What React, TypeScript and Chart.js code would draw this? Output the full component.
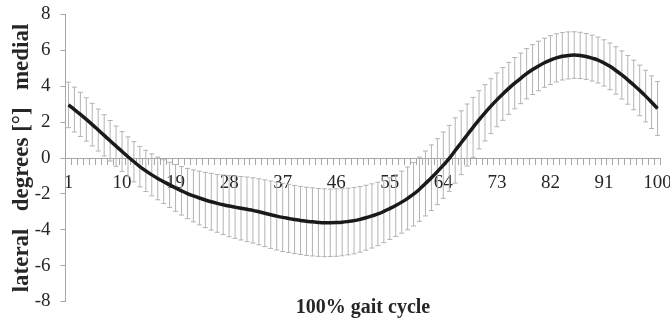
import React, { useEffect, useRef } from 'react';
import { Chart, registerables } from 'chart.js';

Chart.register(...registerables);

// Gait cycle categories (1..100 %)
const categories: string[] = Array.from({ length: 100 }, (_, i) => String(i + 1));

// Labelled ticks on the category axis
const tickLabels: string[] = ['1', '10', '19', '28', '37', '46', '55', '64', '73', '82', '91', '100'];

// Mean angle (degrees)
const meanValues: number[] = [
  2.96, 2.70, 2.43, 2.15, 1.86, 1.56, 1.26, 0.96, 0.66, 0.36,
  0.07, -0.21, -0.48, -0.72, -0.94, -1.14, -1.32, -1.50, -1.67, -1.83,
  -1.98, -2.11, -2.23, -2.34, -2.44, -2.53, -2.61, -2.68, -2.74, -2.80,
  -2.86, -2.92, -3.00, -3.08, -3.16, -3.24, -3.31, -3.37, -3.43, -3.48,
  -3.53, -3.56, -3.59, -3.61, -3.61, -3.60, -3.58, -3.54, -3.49, -3.42,
  -3.33, -3.23, -3.12, -2.98, -2.82, -2.65, -2.46, -2.25, -2.02, -1.74,
  -1.42, -1.10, -0.76, -0.40, -0.02, 0.42, 0.85, 1.28, 1.71, 2.13,
  2.52, 2.89, 3.24, 3.57, 3.88, 4.17, 4.44, 4.70, 4.93, 5.13,
  5.31, 5.46, 5.58, 5.67, 5.72, 5.74, 5.72, 5.66, 5.57, 5.46,
  5.30, 5.11, 4.88, 4.63, 4.36, 4.07, 3.77, 3.45, 3.11, 2.76,
];

// Standard deviation (error bar half-length)
const sdValues: number[] = [
  1.27, 1.25, 1.23, 1.21, 1.19, 1.17, 1.15, 1.13, 1.12, 1.11,
  1.11, 1.12, 1.13, 1.15, 1.17, 1.19, 1.22, 1.26, 1.30, 1.35,
  1.40, 1.45, 1.50, 1.54, 1.58, 1.61, 1.66, 1.71, 1.74, 1.77,
  1.80, 1.82, 1.84, 1.86, 1.88, 1.89, 1.90, 1.90, 1.90, 1.90,
  1.90, 1.90, 1.89, 1.89, 1.88, 1.88, 1.87, 1.86, 1.85, 1.83,
  1.81, 1.79, 1.77, 1.74, 1.72, 1.72, 1.73, 1.75, 1.77, 1.79,
  1.81, 1.83, 1.84, 1.85, 1.84, 1.82, 1.78, 1.73, 1.67, 1.62,
  1.57, 1.53, 1.50, 1.47, 1.45, 1.43, 1.41, 1.40, 1.39, 1.38,
  1.37, 1.36, 1.34, 1.32, 1.31, 1.30, 1.29, 1.28, 1.28, 1.28,
  1.29, 1.30, 1.32, 1.34, 1.36, 1.38, 1.41, 1.44, 1.47, 1.50,
];

const AXIS_GREY = '#a6a6a6';
const BAR_GREY = '#b3b3b3';
const TEXT = '#262626';
const SERIF = "'Liberation Serif', 'Times New Roman', serif";

const errorBarPlugin = {
  id: 'sdErrorBars',
  beforeDatasetsDraw(chart: any) {
    const { ctx } = chart;
    const x = chart.scales.x;
    const y = chart.scales.y;
    ctx.save();
    ctx.strokeStyle = BAR_GREY;
    ctx.lineWidth = 1;
    ctx.beginPath();
    meanValues.forEach((m, i) => {
      const px = x.getPixelForValue(i);
      const top = y.getPixelForValue(m + sdValues[i]);
      const bot = y.getPixelForValue(m - sdValues[i]);
      ctx.moveTo(px, top);
      ctx.lineTo(px, bot);
      ctx.moveTo(px - 2.5, top);
      ctx.lineTo(px + 2.5, top);
      ctx.moveTo(px - 2.5, bot);
      ctx.lineTo(px + 2.5, bot);
    });
    ctx.stroke();
    ctx.restore();
  },
};

export default function App() {
  const canvasRef = useRef<HTMLCanvasElement | null>(null);

  useEffect(() => {
    document.body.style.margin = '0';
    const canvas = canvasRef.current;
    if (!canvas) return;
    const chart = new Chart(canvas, {
      type: 'line',
      data: {
        labels: categories,
        datasets: [
          {
            data: meanValues,
            borderColor: '#1a1a1a',
            borderWidth: 3.5,
            pointRadius: 0,
            tension: 0.4,
            fill: false,
          },
        ],
      },
      options: {
        animation: false,
        responsive: false,
        devicePixelRatio: 1,
        layout: { padding: { left: 0, right: 9.5, top: 14.5, bottom: 4.5 } },
        plugins: {
          legend: { display: false },
          tooltip: { enabled: false },
          title: {
            display: true,
            text: '100% gait cycle',
            position: 'bottom',
            fullSize: false,
            color: TEXT,
            font: { family: SERIF, size: 20, weight: 'bold' },
            padding: { top: -6, bottom: 0 },
          },
        },
        scales: {
          x: {
            type: 'category',
            position: { y: 0 },
            offset: true,
            grid: {
              display: true,
              drawOnChartArea: false,
              drawTicks: true,
              tickLength: 6,
              color: AXIS_GREY,
              offset: true,
            },
            border: { display: true, color: AXIS_GREY, width: 1 },
            ticks: {
              autoSkip: false,
              maxRotation: 0,
              minRotation: 0,
              padding: 8,
              color: TEXT,
              font: { family: SERIF, size: 19 },
              callback: (_v: any, i: number) =>
                tickLabels.includes(categories[i]) ? categories[i] : '',
            },
            afterFit: (s: any) => {
              s.paddingLeft = 0;
              s.paddingRight = 0;
            },
          },
          y: {
            min: -8,
            max: 8,
            ticks: {
              stepSize: 2,
              padding: 10,
              color: TEXT,
              font: { family: SERIF, size: 19 },
            },
            grid: {
              drawOnChartArea: false,
              drawTicks: true,
              tickLength: 5,
              color: AXIS_GREY,
            },
            border: { display: true, color: AXIS_GREY, width: 1 },
            title: {
              display: true,
              text: 'lateral   degrees [°]   medial',
              color: TEXT,
              font: { family: SERIF, size: 23, weight: 'bold' },
              padding: { top: 8, bottom: 0 },
            },
            afterFit: (s: any) => {
              s.width = 65.5;
              s.paddingTop = 0;
              s.paddingBottom = 0;
            },
          },
        },
      },
      plugins: [errorBarPlugin],
    });
    return () => chart.destroy();
  }, []);

  return (
    <div style={{ width: 670, height: 324 }}>
      <canvas ref={canvasRef} width={670} height={324} style={{ display: 'block' }} />
    </div>
  );
}
